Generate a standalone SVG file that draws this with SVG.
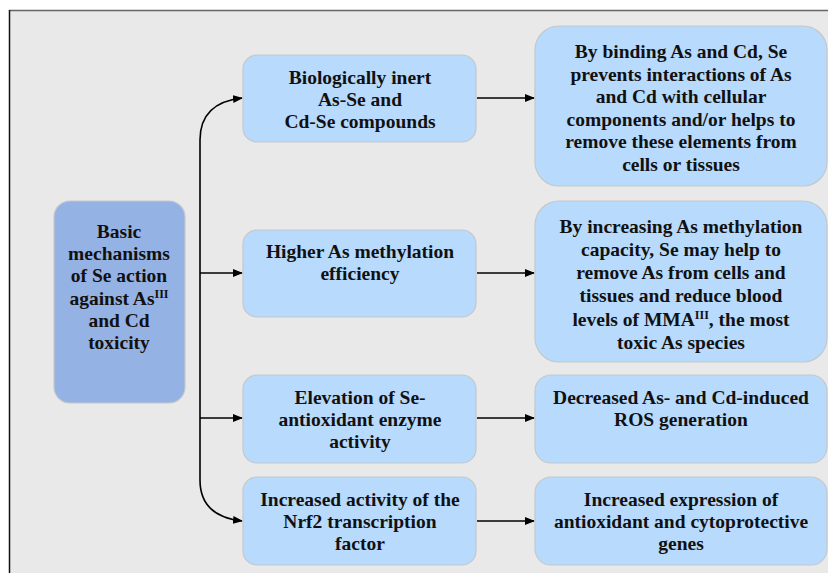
<svg xmlns="http://www.w3.org/2000/svg" width="828" height="573" viewBox="0 0 828 573">
<defs>
<style>
.n{fill:#b8dafc;stroke:#c4c8cc;stroke-width:1.2}
.m{fill:#95b2e4;stroke:#c4c8cc;stroke-width:1.2}
text{font-family:"Liberation Serif","Times New Roman",serif;font-weight:bold;font-size:19.5px;fill:#111;text-anchor:middle}
.sup{font-size:12px}
.c{fill:none;stroke:#000;stroke-width:1.6}
</style>
<marker id="ah" markerWidth="10" markerHeight="8" refX="9" refY="4" orient="auto" markerUnits="userSpaceOnUse">
<path d="M0,0 L10,4 L0,8 Z" fill="#000"/>
</marker>
</defs>
<rect x="0" y="0" width="828" height="573" fill="#fff"/>
<rect x="9" y="10" width="819" height="563" fill="#e9e9e9"/>
<line x1="9" y1="10.5" x2="828" y2="10.5" stroke="#666" stroke-width="1.5"/>
<line x1="9.5" y1="10" x2="9.5" y2="573" stroke="#111" stroke-width="1.5"/>

<g id="connectors">
<path class="c" d="M200,480 L200,140 C200,115 215,101 242,98" marker-end="url(#ah)"/>
<path class="c" d="M200,480 C200,505 215,518 242,521" marker-end="url(#ah)"/>
<path class="c" d="M200,273 L242,273" marker-end="url(#ah)"/>
<path class="c" d="M200,418 L242,418" marker-end="url(#ah)"/>
<path class="c" d="M477,98 L534,98" marker-end="url(#ah)"/>
<path class="c" d="M477,273 L534,273" marker-end="url(#ah)"/>
<path class="c" d="M477,418 L534,418" marker-end="url(#ah)"/>
<path class="c" d="M477,521 L534,521" marker-end="url(#ah)"/>
</g>

<g id="root">
<rect class="m" x="54" y="201" width="131" height="202" rx="16"/>
<text x="119" y="238">Basic</text>
<text x="119" y="260">mechanisms</text>
<text x="119" y="282">of Se action</text>
<text x="119" y="305">against As<tspan class="sup" dy="-7">III</tspan></text>
<text x="119" y="327">and Cd</text>
<text x="119" y="349">toxicity</text>
</g>

<g id="m1">
<rect class="n" x="243" y="55" width="233" height="87" rx="14"/>
<text x="360" y="84">Biologically inert</text>
<text x="360" y="106">As-Se and</text>
<text x="360" y="128">Cd-Se compounds</text>
</g>
<g id="m2">
<rect class="n" x="243" y="230" width="233" height="87" rx="14"/>
<text x="360" y="258">Higher As methylation</text>
<text x="360" y="280">efficiency</text>
</g>
<g id="m3">
<rect class="n" x="243" y="375" width="233" height="88" rx="14"/>
<text x="360" y="404">Elevation of Se-</text>
<text x="360" y="426">antioxidant enzyme</text>
<text x="360" y="448">activity</text>
</g>
<g id="m4">
<rect class="n" x="243" y="477" width="233" height="88" rx="14"/>
<text x="360" y="506">Increased activity of the</text>
<text x="360" y="528">Nrf2 transcription</text>
<text x="360" y="550">factor</text>
</g>

<g id="r1">
<rect class="n" x="535" y="26" width="292" height="160" rx="24"/>
<text x="681" y="58">By binding As and Cd, Se</text>
<text x="681" y="81">prevents interactions of As</text>
<text x="681" y="103">and Cd with cellular</text>
<text x="681" y="126">components and/or helps to</text>
<text x="681" y="148">remove these elements from</text>
<text x="681" y="171">cells or tissues</text>
</g>
<g id="r2">
<rect class="n" x="535" y="201" width="292" height="161" rx="24"/>
<text x="681" y="233">By increasing As methylation</text>
<text x="681" y="256">capacity, Se may help to</text>
<text x="681" y="279">remove As from cells and</text>
<text x="681" y="302">tissues and reduce blood</text>
<text x="681" y="326">levels of MMA<tspan class="sup" dy="-7">III</tspan><tspan dy="7">, the most</tspan></text>
<text x="681" y="349">toxic As species</text>
</g>
<g id="r3">
<rect class="n" x="535" y="375" width="292" height="88" rx="16"/>
<text x="681" y="404">Decreased As- and Cd-induced</text>
<text x="681" y="426">ROS generation</text>
</g>
<g id="r4">
<rect class="n" x="535" y="477" width="292" height="88" rx="16"/>
<text x="681" y="506">Increased expression of</text>
<text x="681" y="528">antioxidant and cytoprotective</text>
<text x="681" y="550">genes</text>
</g>
</svg>
